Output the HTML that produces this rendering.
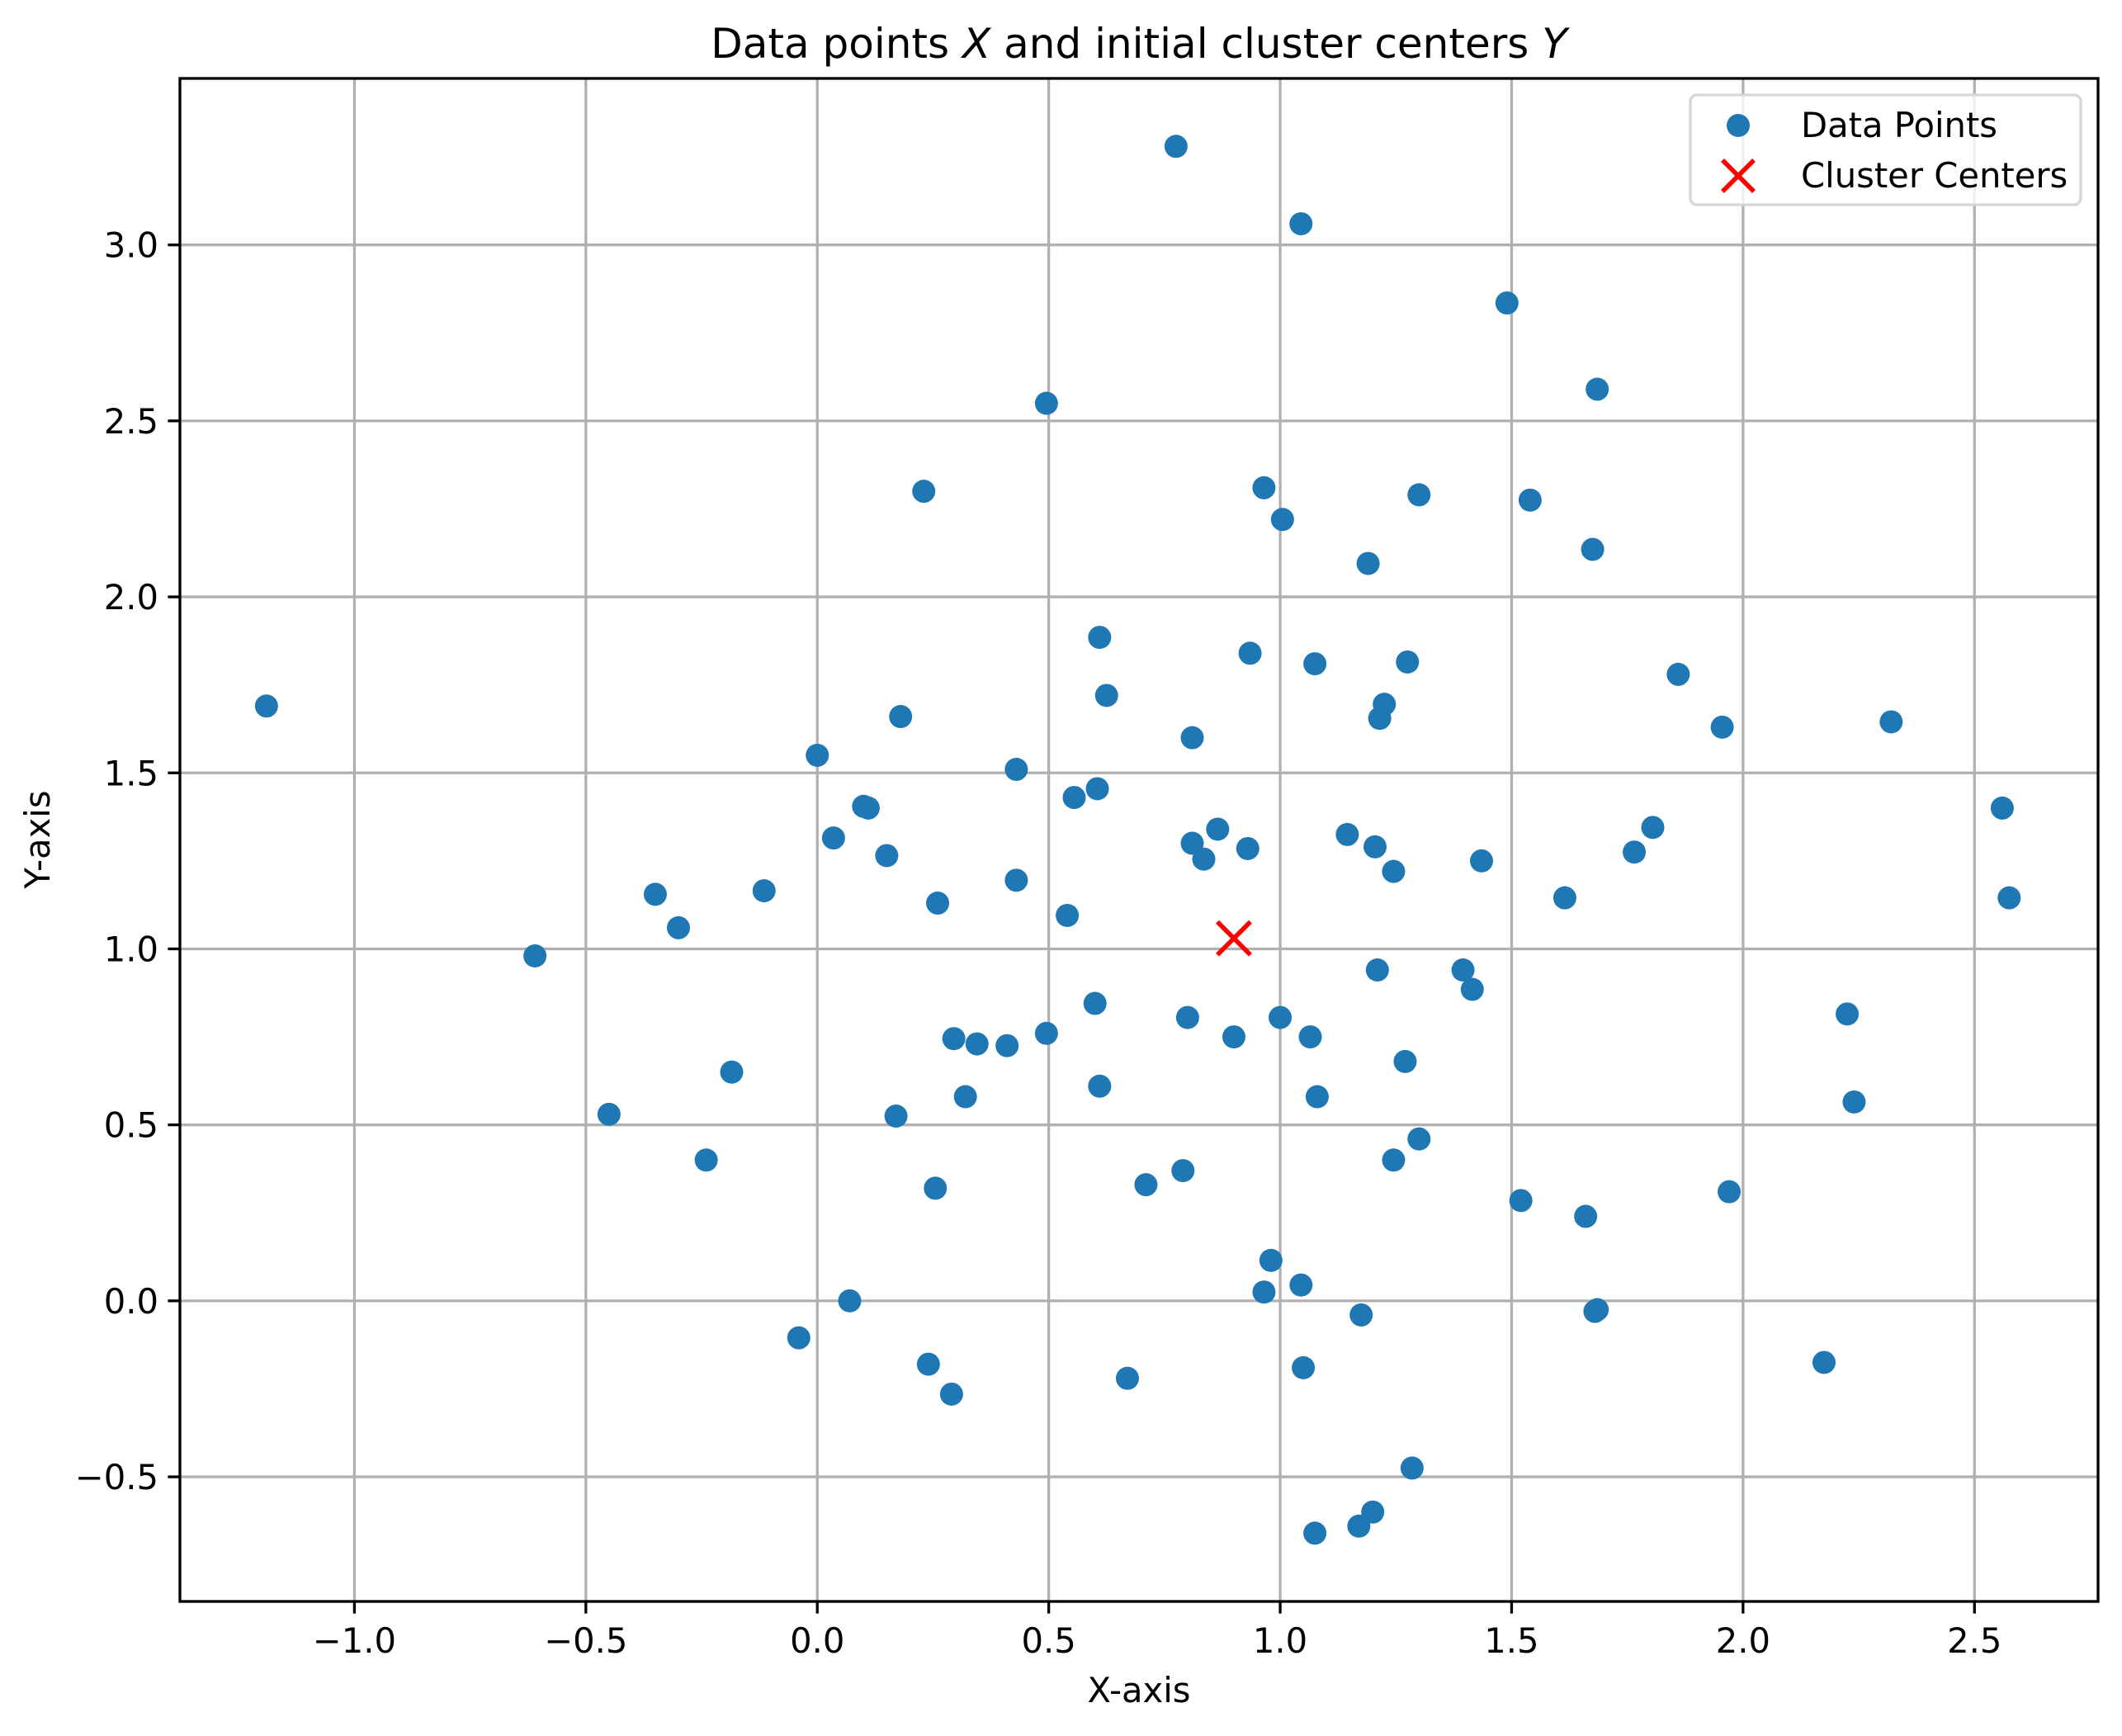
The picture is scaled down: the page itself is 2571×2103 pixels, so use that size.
<!DOCTYPE html>
<html><head><meta charset="utf-8"><style>
body{margin:0;background:#fff}
svg text{font-family:"DejaVu Sans","Liberation Sans",sans-serif;fill:#000}
</style></head><body>
<svg id="chart" width="2571" height="2098" viewBox="0 0 2571 2098" xmlns="http://www.w3.org/2000/svg">
<rect width="2571" height="2098" fill="#fff"/>
<g id="grid"></g>
<g id="points"></g>
<g id="centers"></g>
<rect x="218" y="95" width="2324" height="1845" fill="none" stroke="#000" stroke-width="3.3"/>
<g id="ticks"></g>
<text x="1380" y="70" font-size="50" text-anchor="middle">Data points <tspan font-style="italic">X</tspan> and initial cluster centers <tspan font-style="italic">Y</tspan></text>
<text x="1380" y="2062" font-size="41.7" text-anchor="middle">X-axis</text>
<text x="0" y="0" font-size="41.7" text-anchor="middle" transform="translate(60,1017) rotate(-90)">Y-axis</text>
<g>
<rect x="2048" y="115" width="473" height="133" rx="8" fill="#fff" fill-opacity="0.8" stroke="#d6d6d6" stroke-width="3.3"/>
<circle cx="2106" cy="152" r="14" fill="#1f77b4"/>
<text x="2182" y="166" font-size="41.7">Data Points</text>
<path d="M2087 194 L2125 232 M2125 194 L2087 232" stroke="#f00" stroke-width="5.5"/>
<text x="2182" y="227" font-size="41.7">Cluster Centers</text>
</g>
</svg>
<script>
const pointX=[-1.19,-0.61,-0.45,-0.35,-0.30,-0.24,-0.185,-0.115,-0.04,0.0,0.035,0.07,0.10,0.11,0.15,0.17,0.18,0.23,0.24,0.255,0.26,0.29,0.295,0.32,0.345,0.41,0.43,0.43,0.495,0.495,0.54,0.555,0.60,0.605,0.61,0.61,0.625,0.67,0.71,0.775,0.79,0.80,0.81,0.81,0.835,0.865,0.90,0.93,0.935,0.965,0.965,0.98,1.0,1.005,1.045,1.045,1.05,1.065,1.075,1.075,1.08,1.145,1.175,1.17,1.19,1.20,1.205,1.21,1.215,1.225,1.245,1.245,1.27,1.275,1.285,1.30,1.30,1.395,1.415,1.435,1.49,1.52,1.54,1.615,1.66,1.675,1.68,1.685,1.685,1.765,1.805,1.86,1.955,1.97,2.175,2.225,2.24,2.32,2.56,2.575];
const pointY=[1.69,0.98,0.53,1.155,1.06,0.40,0.65,1.165,-0.105,1.55,1.315,0.0,1.405,1.40,1.265,0.525,1.66,2.30,-0.18,0.32,1.13,-0.265,0.745,0.58,0.73,0.725,1.51,1.195,2.55,0.76,1.095,1.43,0.845,1.455,1.885,0.61,1.72,-0.22,0.33,3.28,0.37,0.805,1.60,1.30,1.255,1.34,0.75,1.285,1.84,2.31,0.025,0.115,0.805,2.22,3.06,0.045,-0.19,0.75,-0.66,1.81,0.58,1.325,-0.04,-0.64,2.095,-0.60,1.29,0.94,1.655,1.695,1.22,0.40,0.68,1.815,-0.475,2.29,0.46,0.94,0.885,1.25,2.835,0.285,2.275,1.145,0.24,2.135,-0.03,2.59,-0.025,1.275,1.345,1.78,1.63,0.31,-0.175,0.815,0.565,1.645,1.40,1.145];
const centerX=[0.90];
const centerY=[1.03];
const xTicks=[-1.0,-0.5,0.0,0.5,1.0,1.5,2.0,2.5];
const yTicks=[-0.5,0.0,0.5,1.0,1.5,2.0,2.5,3.0];
const xTickLabels=["\u22121.0","\u22120.5","0.0","0.5","1.0","1.5","2.0","2.5"];
const yTickLabels=["\u22120.5","0.0","0.5","1.0","1.5","2.0","2.5","3.0"];
const L=218,R=2542,T=95,B=1940,xMin=-1.377,xMax=2.767,yMin=-0.854,yMax=3.473;
const sx=v=>L+(v-xMin)/(xMax-xMin)*(R-L);
const sy=v=>B-(v-yMin)/(yMax-yMin)*(B-T);
const NS='http://www.w3.org/2000/svg';
function mk(tag,attrs,parent){const e=document.createElementNS(NS,tag);for(const k in attrs)e.setAttribute(k,attrs[k]);parent.appendChild(e);return e;}
const grid=document.getElementById('grid'),ticks=document.getElementById('ticks');
xTicks.forEach((v,i)=>{const x=sx(v);
 const g=mk('line',{x1:x,x2:x,y1:T,y2:B,stroke:'#b0b0b0','stroke-width':3.3},grid);
 
 
 const t=mk('line',{x1:x,x2:x,y1:B,y2:B+14.6,stroke:'#000','stroke-width':3.3},ticks);
 
 
 const l=mk('text',{x:x,y:B+62,'font-size':41.7,'text-anchor':'middle'},ticks);l.textContent=xTickLabels[i];
 
 
});
yTicks.forEach((v,i)=>{const y=sy(v);
 const g=mk('line',{x1:L,x2:R,y1:y,y2:y,stroke:'#b0b0b0','stroke-width':3.3},grid);
 
 
 const t=mk('line',{x1:L-14.6,x2:L,y1:y,y2:y,stroke:'#000','stroke-width':3.3},ticks);
 
 
 const l=mk('text',{x:L-26,y:y+15,'font-size':41.7,'text-anchor':'end'},ticks);l.textContent=yTickLabels[i];
 
 
});
const pts=document.getElementById('points');
pointX.forEach((v,i)=>{const c=mk('circle',{cx:sx(v),cy:sy(pointY[i]),r:14,fill:'#1f77b4'},pts);
 
 
});
const cg=document.getElementById('centers');
centerX.forEach((v,i)=>{const x=sx(v),y=sy(centerY[i]),h=20;
 const p=mk('path',{d:`M${x-h} ${y-h} L${x+h} ${y+h} M${x+h} ${y-h} L${x-h} ${y+h}`,stroke:'#f00','stroke-width':5.5},cg);
 
 
});
</script>
</body></html>
